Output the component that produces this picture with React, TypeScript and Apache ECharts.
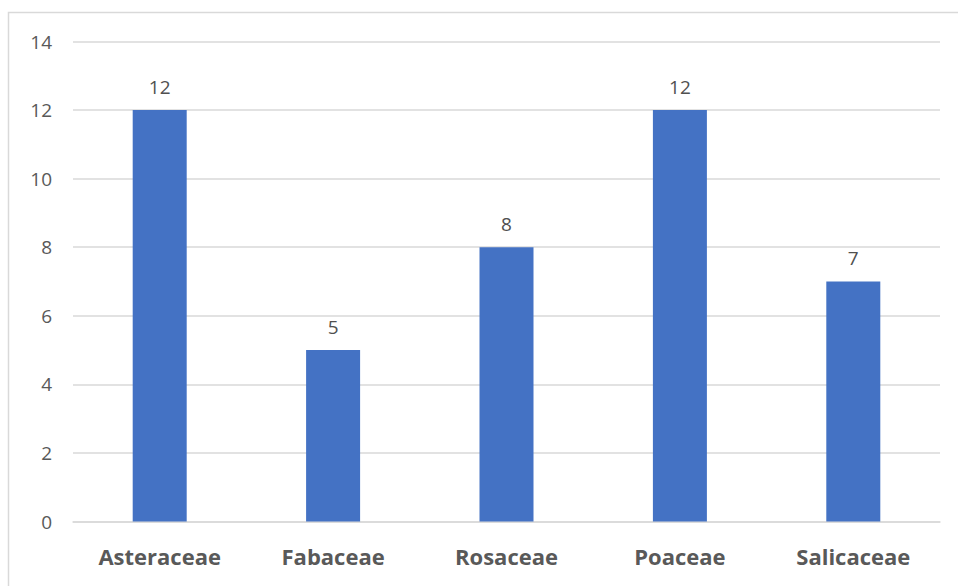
import React, { useEffect, useRef } from "react";
import * as echarts from "echarts";

const categories = ["Asteraceae", "Fabaceae", "Rosaceae", "Poaceae", "Salicaceae"];
const values = [12, 5, 8, 12, 7];
const yTicks = { min: 0, max: 14, interval: 2 };

export default function App() {
  const ref = useRef<HTMLDivElement>(null);
  useEffect(() => {
    if (!ref.current) return;
    const chart = echarts.init(ref.current, null, { renderer: "svg" });
    chart.setOption({
      animation: false,
      backgroundColor: "#ffffff",
      textStyle: { fontFamily: "'Open Sans', 'Noto Sans', sans-serif" },
      graphic: [
        {
          type: "rect",
          shape: { x: 8.5, y: 12.5, width: 960, height: 600 },
          style: { fill: "none", stroke: "#d9d9d9", lineWidth: 1.5 },
          silent: true,
        },
      ],
      grid: { left: 73, right: 18, top: 41.5, bottom: 64.5, containLabel: false },
      xAxis: {
        type: "category",
        data: categories,
        axisLine: { show: true, lineStyle: { color: "#d9d9d9", width: 1.5 } },
        axisTick: { show: false },
        axisLabel: {
          color: "#595959",
          fontSize: 22,
          fontWeight: "bold",
          margin: 23,
          fontFamily: "'Open Sans', 'Noto Sans', sans-serif",
        },
      },
      yAxis: {
        type: "value",
        min: yTicks.min,
        max: yTicks.max,
        interval: yTicks.interval,
        axisLine: { show: false },
        axisTick: { show: false },
        splitLine: { lineStyle: { color: "#d9d9d9", width: 1.5 } },
        axisLabel: {
          color: "#595959",
          fontSize: 19,
          margin: 21,
          fontFamily: "'Open Sans', 'Noto Sans', sans-serif",
        },
      },
      series: [
        {
          type: "bar",
          data: values,
          barWidth: 54,
          itemStyle: { color: "#4472c4" },
          label: {
            show: true,
            position: "top",
            distance: 14,
            color: "#505050",
            fontSize: 19,
            fontFamily: "'Open Sans', 'Noto Sans', sans-serif",
          },
        },
      ],
    });
    return () => chart.dispose();
  }, []);
  return (
    <div
      ref={ref}
      style={{ position: "fixed", left: 0, top: 0, width: 958, height: 586 }}
    />
  );
}
